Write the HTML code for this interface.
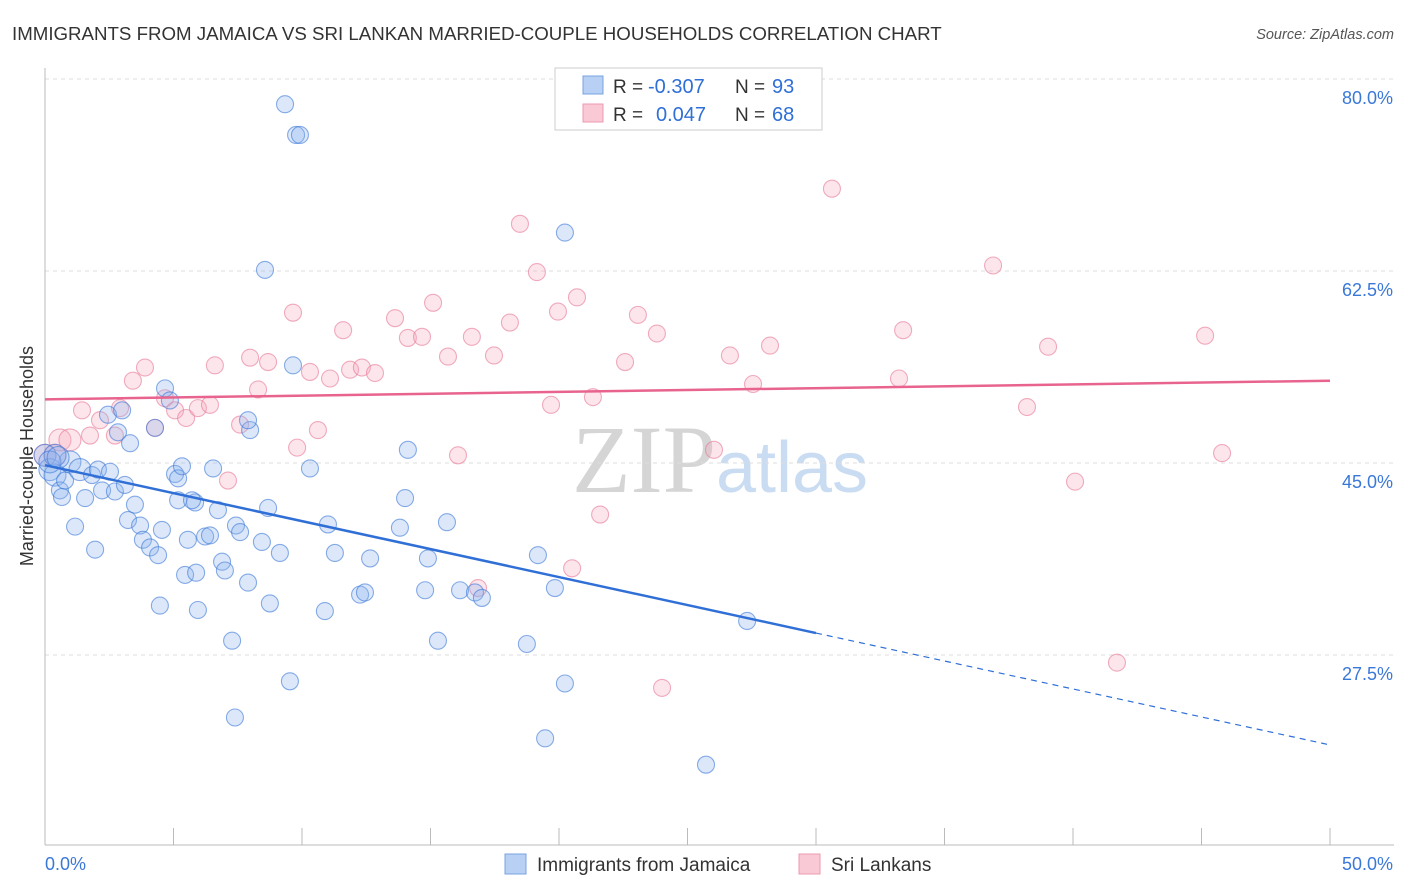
<!DOCTYPE html>
<html><head><meta charset="utf-8"><style>
body{margin:0;background:#fff;font-family:"Liberation Sans",sans-serif;}
svg{display:block}
</style></head><body>
<svg id="c" width="1406" height="892">
<text x="12" y="40" font-size="18.7" fill="#333">IMMIGRANTS FROM JAMAICA VS SRI LANKAN MARRIED-COUPLE HOUSEHOLDS CORRELATION CHART</text>
<text x="1394" y="39" font-size="14.5" fill="#555" font-style="italic" text-anchor="end">Source: ZipAtlas.com</text>
<text x="33" y="456" font-size="18" fill="#333" text-anchor="middle" transform="rotate(-90 33 456)">Married-couple Households</text>
<text x="720" y="492" font-size="96" fill="#ddd" text-anchor="middle" font-family="Liberation Serif,serif"><tspan fill="#d5d5d5">ZIP</tspan><tspan fill="#c9dcf2" font-family="Liberation Sans,sans-serif" font-size="72">atlas</tspan></text>
<g id="grid"></g><g id="marks"></g><g id="trend"></g>
<g>
<rect x="555" y="68" width="267" height="62" fill="#fff" stroke="#ccc"/>
<rect x="583" y="76" width="20" height="18" fill="#b7d0f3" stroke="#7aa3e0"/>
<rect x="583" y="104" width="20" height="18" fill="#f9c9d6" stroke="#ec9ab0"/>
<text x="613" y="93" font-size="19" fill="#333">R =</text>
<text x="648" y="93" font-size="20" fill="#2f6fd6">-0.307</text>
<text x="735" y="93" font-size="19" fill="#333">N =</text>
<text x="772" y="93" font-size="20" fill="#2f6fd6">93</text>
<text x="613" y="121" font-size="19" fill="#333">R =</text>
<text x="656" y="121" font-size="20" fill="#2f6fd6">0.047</text>
<text x="735" y="121" font-size="19" fill="#333">N =</text>
<text x="772" y="121" font-size="20" fill="#2f6fd6">68</text>
</g>
<g>
<rect x="505" y="854" width="21" height="20" fill="#b7d0f3" stroke="#7aa3e0"/>
<text x="537" y="871" font-size="19" fill="#333">Immigrants from Jamaica</text>
<rect x="799" y="854" width="21" height="20" fill="#f9c9d6" stroke="#ec9ab0"/>
<text x="831" y="871" font-size="19" fill="#333">Sri Lankans</text>
</g>
</svg>
<script>
const yTicks=[80,62.5,45,27.5];
const yTickLabels=["80.0%","62.5%","45.0%","27.5%"];
const xTickLabels=["0.0%","50.0%"];
const blueX=[0,.19,.39,.58,.78,.66,1.17,.97,1.36,1.56,1.95,1.83,2.06,2.22,2.45,2.53,2.72,2.84,3.0,3.11,3.31,3.5,3.23,3.7,3.81,4.09,4.4,4.67,4.86,5.06,5.18,5.33,5.18,5.45,5.84,5.88,4.28,4.47,4.55,5.56,5.72,5.95,6.23,6.42,6.54,6.73,6.89,7.0,7.28,7.43,7.59,7.9,7.98,7.9,7.39,8.44,8.56,8.68,8.75,9.14,9.34,9.53,9.65,9.77,9.92,10.31,10.89,11.01,11.28,12.26,12.45,12.65,13.81,14.01,14.12,14.79,14.9,15.29,15.64,16.15,16.73,17.0,18.75,19.18,19.46,19.84,20.23,20.23,25.72,27.32,.39,.19,.51];
const blueY=[45.7,44.4,43.9,42.5,43.4,41.9,39.2,45.1,44.4,41.8,37.1,43.9,44.4,42.5,49.4,44.2,42.4,47.8,49.8,43.0,46.8,41.2,39.8,39.3,38.0,37.3,36.6,51.8,50.7,44.0,43.6,44.7,41.6,34.8,41.4,35.0,48.2,32.0,38.9,38.0,41.6,31.6,38.3,38.4,44.5,40.7,36.0,35.2,28.8,39.3,38.7,34.1,48.0,48.9,21.8,37.8,62.6,40.9,32.2,36.8,77.7,25.1,53.9,74.9,74.9,44.5,31.5,39.4,36.8,33.0,33.2,36.3,39.1,41.8,46.2,33.4,36.3,28.8,39.6,33.4,33.2,32.7,28.5,36.6,19.9,33.6,24.9,66.0,17.5,30.6,45.7,45.1,45.5];
const pinkX=[0,.39,.58,.97,1.44,1.75,2.14,2.72,2.92,3.42,3.89,4.28,4.67,5.06,5.49,5.95,6.42,6.61,7.12,7.59,7.98,8.29,8.68,9.65,9.81,10.31,10.62,11.09,11.6,11.87,12.33,12.84,13.62,14.12,14.67,15.1,15.68,16.07,16.61,17.47,18.09,18.48,19.14,19.69,19.96,20.51,20.7,21.32,21.6,22.57,23.07,23.81,24.01,26.03,26.65,27.55,28.21,30.62,33.23,33.39,36.89,38.21,39.03,40.08,41.71,45.14,45.8,16.85];
const pinkY=[45.7,45.7,47.1,47.1,49.8,47.5,48.9,47.5,50.0,52.5,53.7,48.2,50.9,49.8,49.1,50.0,50.3,53.9,43.4,48.5,54.6,51.7,54.2,58.7,46.4,53.3,48.0,52.7,57.1,53.5,53.7,53.2,58.2,56.4,56.5,59.6,54.7,45.7,56.5,54.8,57.8,66.8,62.4,50.3,58.8,35.4,60.1,51.0,40.3,54.2,58.5,56.8,24.5,46.2,54.8,52.2,55.7,70.0,52.7,57.1,63.0,50.1,55.6,43.3,26.8,56.6,45.9,33.6];
const blueTrend=[44.8,19.3]; // value at x=0 and x=50
const pinkTrend=[50.8,52.5];
const blueSolidEnd=30;

const X=v=>45+v*25.7, Y=v=>79+(80-v)*10.971;
const NS="http://www.w3.org/2000/svg";
function mk(tag,attrs,parent){const e=document.createElementNS(NS,tag);for(const k in attrs)e.setAttribute(k,attrs[k]);parent.appendChild(e);return e;}
const grid=document.getElementById('grid');
yTicks.forEach((t,i)=>{
  const l=mk('line',{x1:45,x2:1394,y1:Y(t),y2:Y(t),stroke:'#ddd','stroke-dasharray':'4,4'},grid);
  
  
  const tx=mk('text',{x:1393,y:Y(t)+25,'font-size':18,fill:'#3a78d8','text-anchor':'end'},grid);
  tx.textContent=yTickLabels[i];
  
  
});
mk('line',{x1:45,x2:45,y1:68,y2:845,stroke:'#bbb'},grid);
mk('line',{x1:45,x2:1394,y1:845,y2:845,stroke:'#bbb'},grid);
for(let i=0;i<=10;i++){const t=mk('line',{x1:X(i*5),x2:X(i*5),y1:828,y2:845,stroke:'#bbb'},grid);
  
  }
xTickLabels.forEach((s,i)=>{const t=mk('text',{x:i?1393:45,y:870,'font-size':18,fill:'#3a78d8','text-anchor':i?'end':'start'},grid);t.textContent=s;
  
  });
const marks=document.getElementById('marks');
function pts(xs,ys,fill,stroke,name){xs.forEach((x,i)=>{const r=(x<1.5&&Math.abs(ys[i]-46)<2.5)?11:8.5;
  const c=mk('circle',{cx:X(x),cy:Y(ys[i]),r:r,fill:fill,stroke:stroke,'stroke-width':1.1},marks);
  
  });}
pts(pinkX,pinkY,'rgba(246,170,190,0.3)','rgba(232,120,150,0.6)','srilanka-point');
pts(blueX,blueY,'rgba(140,180,240,0.3)','rgba(60,120,215,0.6)','jamaica-point');
const tr=document.getElementById('trend');
const by=x=>blueTrend[0]+(blueTrend[1]-blueTrend[0])*x/50;
const b1=mk('line',{x1:X(0),y1:Y(by(0)),x2:X(blueSolidEnd),y2:Y(by(blueSolidEnd)),stroke:'#2f6fd6','stroke-width':2.5},tr);


const b2=mk('line',{x1:X(blueSolidEnd),y1:Y(by(blueSolidEnd)),x2:X(50),y2:Y(by(50)),stroke:'#2f6fd6','stroke-width':1.2,'stroke-dasharray':'6,5'},tr);


const p1=mk('line',{x1:X(0),y1:Y(pinkTrend[0]),x2:X(50),y2:Y(pinkTrend[1]),stroke:'#e8648e','stroke-width':2.5},tr);


</script>
</body></html>
